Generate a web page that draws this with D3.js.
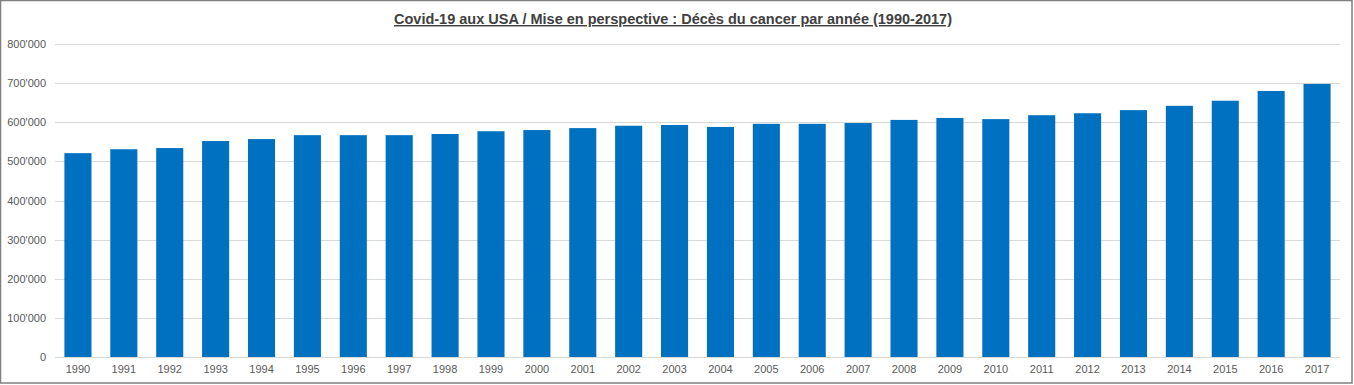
<!DOCTYPE html>
<html>
<head>
<meta charset="utf-8">
<script src="https://cdn.jsdelivr.net/npm/d3@7"></script>
<style>
  body { margin: 0; background: white; }
  svg { display: block; font-family: Arial, "Liberation Sans", sans-serif; }
</style>
</head>
<body>
<div id="chart"></div>
<script>
var width = 1354
var height = 385
var margin = {top: 44, right: 14, bottom: 28, left: 55}

// Data

var years = ["1990", "1991", "1992", "1993", "1994", "1995", "1996", "1997", "1998", "1999",
             "2000", "2001", "2002", "2003", "2004", "2005", "2006", "2007", "2008", "2009",
             "2010", "2011", "2012", "2013", "2014", "2015", "2016", "2017"]

var deaths = [521000, 531000, 534000, 552000, 557000, 567000, 567000, 567000, 570000, 577000,
              580000, 585000, 591000, 593000, 588000, 596000, 596000, 598000, 606000, 611000,
              608000, 618000, 623000, 631000, 642000, 655000, 680000, 698000]

var yTicks = [0, 100000, 200000, 300000, 400000, 500000, 600000, 700000, 800000]

var title = "Covid-19 aux USA / Mise en perspective : Décès du cancer par année (1990-2017)"

// Number format with apostrophe as thousands separator

var locale = d3.formatLocale({decimal: ".", thousands: "'", grouping: [3], currency: ["", ""]})
var fmt = locale.format(",")

// Scales

var y_scale = d3.scaleLinear()
    .domain([0, 800000])
    .range([height - margin.bottom, margin.top]);

var x_scale = d3.scaleBand()
    .domain(years)
    .range([margin.left, width - margin.right])
    .paddingInner(0.41)
    .paddingOuter(0.205);

// Chart background

var svg = d3.select("#chart")
    .append("svg")
    .attr("width", width)
    .attr("height", height)
    .style("background-color", "white")

svg.append("rect")
    .attr("x", 0.5)
    .attr("y", 0.5)
    .attr("width", width - 2.5)
    .attr("height", height - 2.5)
    .attr("fill", "white")
    .attr("stroke", "#7f7f7f")
    .attr("stroke-width", 1.5)

// Gridlines

svg.append("g")
    .selectAll("line")
    .data(yTicks)
    .enter()
    .append("line")
    .attr("x1", margin.left)
    .attr("x2", width - margin.right)
    .attr("y1", function(d) { return Math.round(y_scale(d)) + 0.5; })
    .attr("y2", function(d) { return Math.round(y_scale(d)) + 0.5; })
    .attr("stroke", "#d9d9d9")
    .attr("stroke-width", 1)

// Bars

svg.append("g")
    .selectAll("rect")
    .data(years)
    .enter()
    .append("rect")
    .attr("x", function(d) { return x_scale(d); })
    .attr("y", function(d, i) { return y_scale(deaths[i]); })
    .attr("width", x_scale.bandwidth())
    .attr("height", function(d, i) { return y_scale(0) - y_scale(deaths[i]); })
    .attr("fill", "#0070c0")

// Axes

var yAxis = d3.axisLeft(y_scale)
    .tickValues(yTicks)
    .tickFormat(fmt)
    .tickSize(0)
    .tickPadding(9);

var xAxis = d3.axisBottom(x_scale)
    .tickSize(0)
    .tickPadding(8);

var gy = svg.append("g")
    .attr("transform", "translate(" + margin.left + ",0)")
    .call(yAxis);

var gx = svg.append("g")
    .attr("transform", "translate(0," + (height - margin.bottom) + ")")
    .call(xAxis);

gy.select(".domain").remove();
gx.select(".domain")
    .attr("stroke", "#d9d9d9")
    .attr("d", "M" + margin.left + ",0.5H" + (width - margin.right));

svg.selectAll(".tick text")
    .attr("fill", "#595959")
    .style("font-size", "11px")
    .style("font-family", "Arial, 'Liberation Sans', sans-serif");

// Title

var t = svg.append("text")
    .attr("x", 673)
    .attr("y", 24)
    .attr("text-anchor", "middle")
    .attr("fill", "#404040")
    .style("font-size", "14.5px")
    .style("font-weight", "bold")
    .style("text-decoration", "underline")
    .text(title)
</script>
</body>
</html>
